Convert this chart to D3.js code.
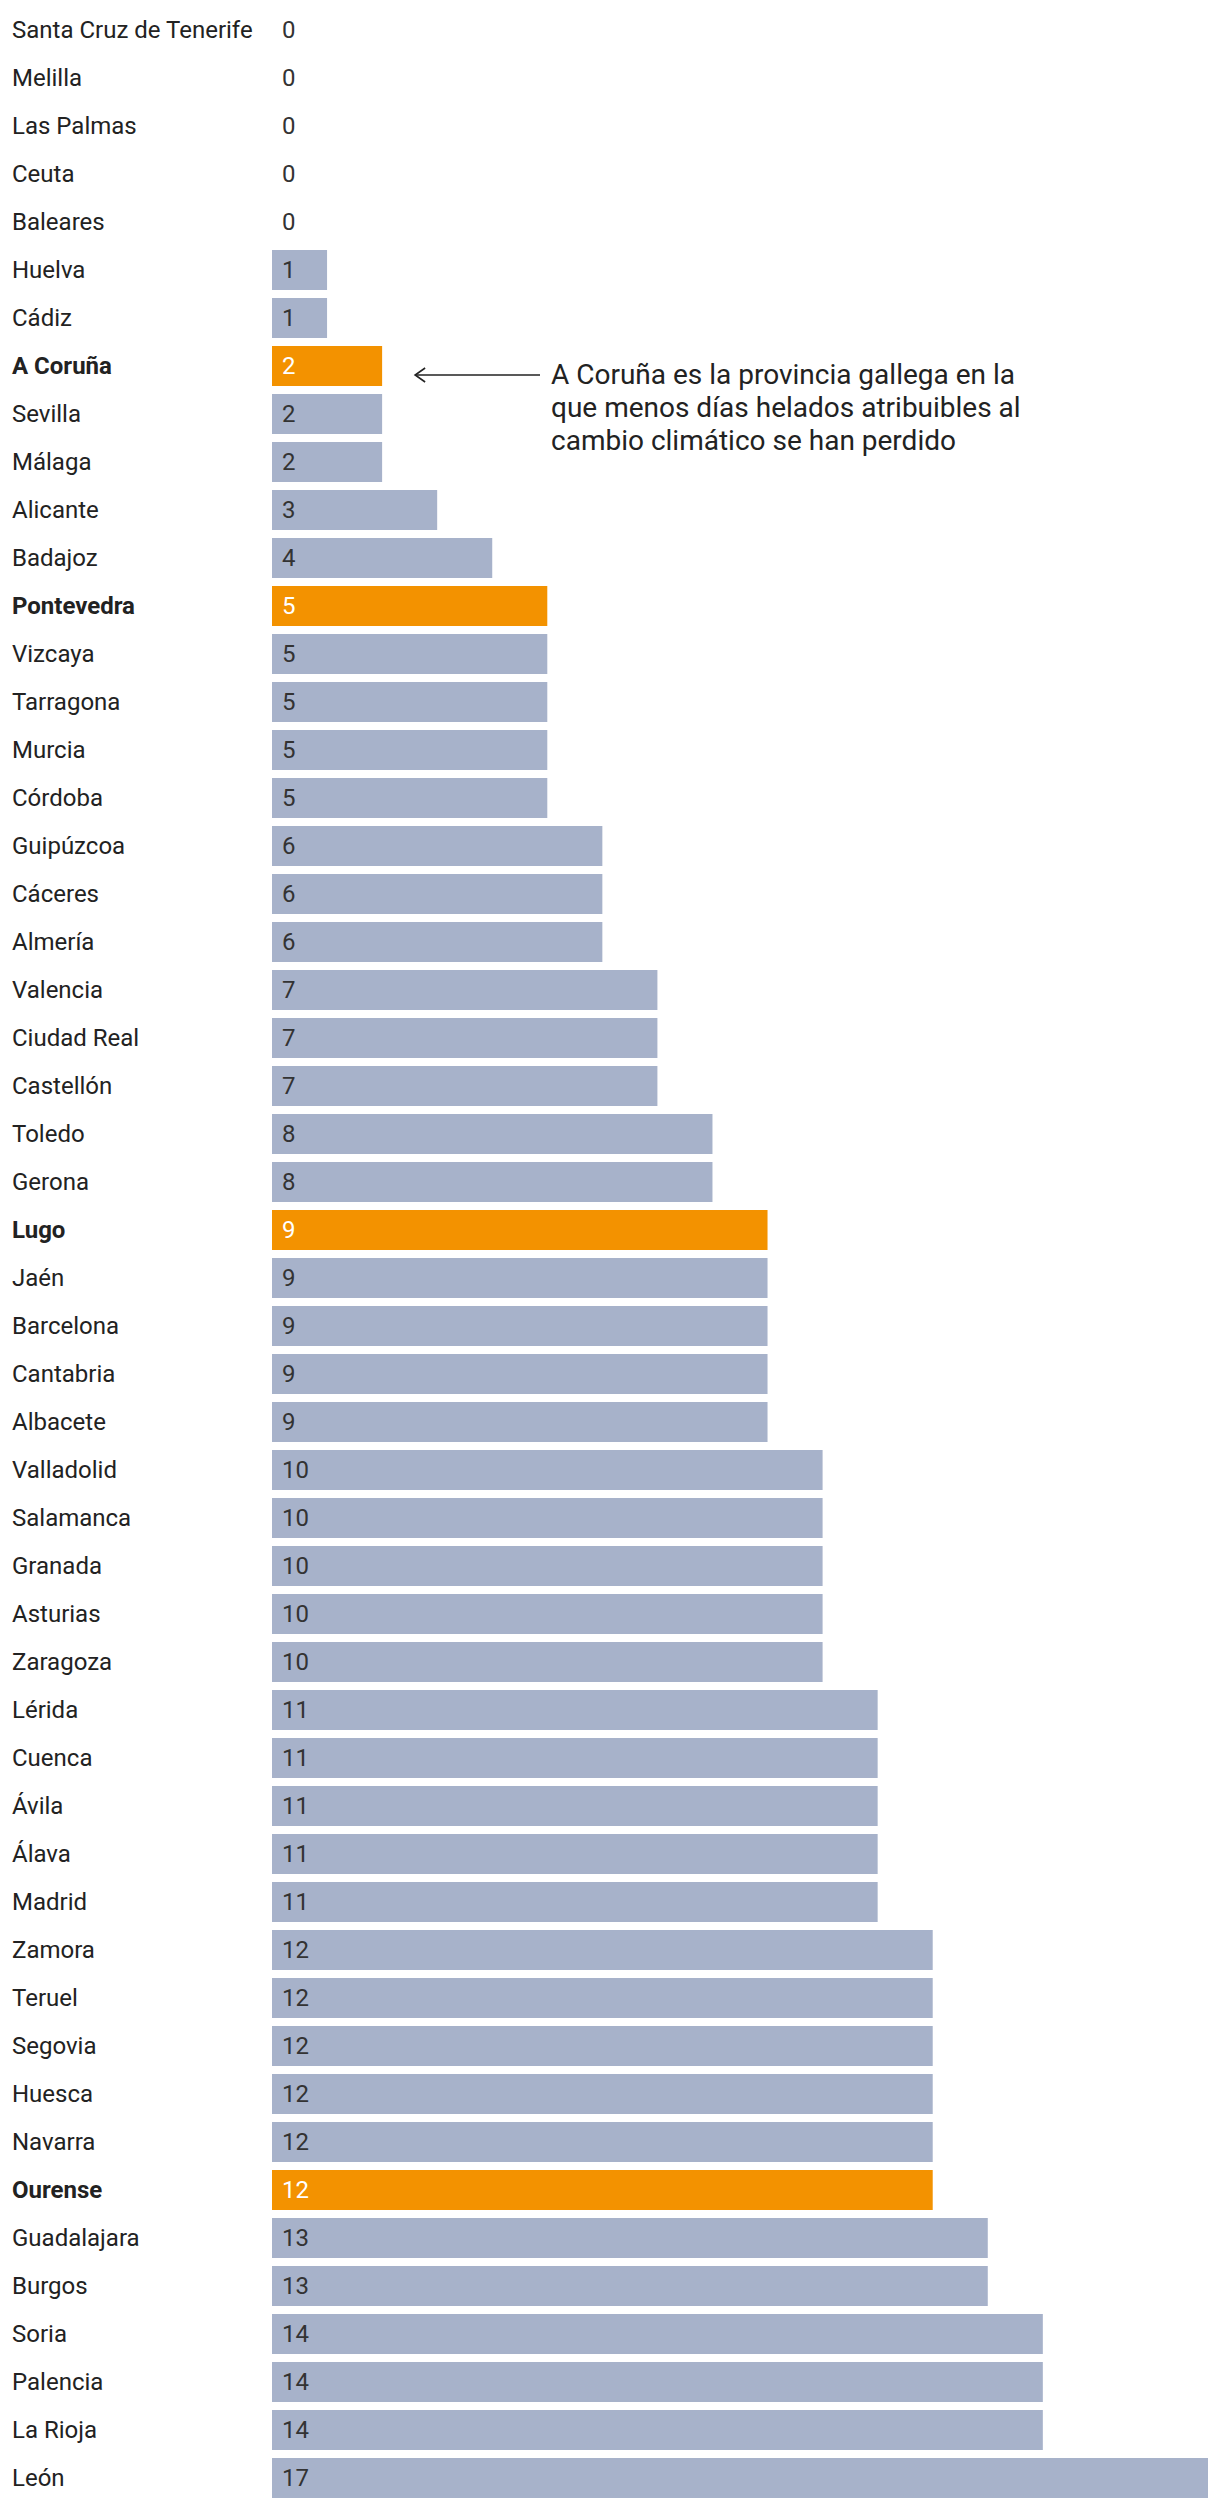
<!DOCTYPE html>
<html>
<head>
<meta charset="utf-8">
<script src="https://cdn.jsdelivr.net/npm/d3@7"></script>
<style>
  body { margin: 0; background: #fff; }
  svg text { font-family: Roboto, "Noto Sans", sans-serif; }
</style>
</head>
<body>
<div id="chart"></div>
<script>
// Provinces, ordered as in the chart (ascending)
const provinces = [
  "Santa Cruz de Tenerife", "Melilla", "Las Palmas", "Ceuta", "Baleares",
  "Huelva", "Cádiz", "A Coruña", "Sevilla", "Málaga", "Alicante", "Badajoz",
  "Pontevedra", "Vizcaya", "Tarragona", "Murcia", "Córdoba", "Guipúzcoa",
  "Cáceres", "Almería", "Valencia", "Ciudad Real", "Castellón", "Toledo",
  "Gerona", "Lugo", "Jaén", "Barcelona", "Cantabria", "Albacete", "Valladolid",
  "Salamanca", "Granada", "Asturias", "Zaragoza", "Lérida", "Cuenca", "Ávila",
  "Álava", "Madrid", "Zamora", "Teruel", "Segovia", "Huesca", "Navarra",
  "Ourense", "Guadalajara", "Burgos", "Soria", "Palencia", "La Rioja", "León"
];
const values = [
  0, 0, 0, 0, 0,
  1, 1, 2, 2, 2, 3, 4,
  5, 5, 5, 5, 5, 6,
  6, 6, 7, 7, 7, 8,
  8, 9, 9, 9, 9, 9, 10,
  10, 10, 10, 10, 11, 11, 11,
  11, 11, 12, 12, 12, 12, 12,
  12, 13, 13, 14, 14, 14, 17
];
// Galician provinces are highlighted
const highlighted = ["A Coruña", "Pontevedra", "Lugo", "Ourense"];

const annotationLines = [
  "A Coruña es la provincia gallega en la",
  "que menos días helados atribuibles al",
  "cambio climático se han perdido"
];
const annotationTarget = "A Coruña";

const config = {
  width: 1220,
  height: 2508,
  barLeft: 272,
  barRight: 1208,
  top: 6,
  labelX: 12,
  barColor: "#a7b2ca",
  highlightColor: "#f39200",
  textColor: "#222"
};

const data = provinces.map((p, i) => ({ name: p, value: values[i] }));

const svg = d3.select("#chart").append("svg")
  .attr("width", config.width)
  .attr("height", config.height);

// Scales
const x = d3.scaleLinear()
  .domain([0, d3.max(values)])
  .range([config.barLeft, config.barRight]);

const y = d3.scaleBand()
  .domain(provinces)
  .range([config.top, config.top + provinces.length * 48])
  .paddingInner(1 / 6)
  .paddingOuter(1 / 12);

const isHi = d => highlighted.includes(d.name);

// Province labels
svg.append("g")
  .selectAll("text")
  .data(data)
  .join("text")
    .attr("x", config.labelX)
    .attr("y", d => y(d.name) + y.bandwidth() / 2)
    .attr("dy", "0.35em")
    .attr("font-size", 24)
    .attr("font-weight", d => isHi(d) ? "bold" : "normal")
    .attr("fill", config.textColor)
    .text(d => d.name);

// Bars
svg.append("g")
  .selectAll("rect")
  .data(data)
  .join("rect")
    .attr("x", x(0))
    .attr("y", d => y(d.name))
    .attr("width", d => x(d.value) - x(0))
    .attr("height", y.bandwidth())
    .attr("fill", d => isHi(d) ? config.highlightColor : config.barColor);

// Value labels inside bars
svg.append("g")
  .selectAll("text")
  .data(data)
  .join("text")
    .attr("x", x(0) + 10)
    .attr("y", d => y(d.name) + y.bandwidth() / 2)
    .attr("dy", "0.35em")
    .attr("font-size", 24)
    .attr("fill", d => isHi(d) ? "#fff" : "#333")
    .text(d => d.value);

// Annotation with arrow pointing at A Coruña
const target = data.find(d => d.name === annotationTarget);
const arrowY = y(target.name) + y.bandwidth() / 2 + 9;
const arrowTip = x(target.value) + 33;
const arrowEnd = 540;

const arrow = svg.append("g")
  .attr("fill", "none")
  .attr("stroke", "#222")
  .attr("stroke-width", 1.6);

arrow.append("line")
  .attr("x1", arrowTip)
  .attr("x2", arrowEnd)
  .attr("y1", arrowY)
  .attr("y2", arrowY);

arrow.append("path")
  .attr("d", `M${arrowTip + 10},${arrowY - 7} L${arrowTip},${arrowY} L${arrowTip + 10},${arrowY + 7}`);

svg.append("text")
  .attr("x", 551)
  .attr("y", 384)
  .attr("font-size", 28)
  .attr("fill", config.textColor)
  .selectAll("tspan")
  .data(annotationLines)
  .join("tspan")
    .attr("x", 551)
    .attr("dy", (d, i) => i === 0 ? 0 : 33)
    .text(d => d);
</script>
</body>
</html>
